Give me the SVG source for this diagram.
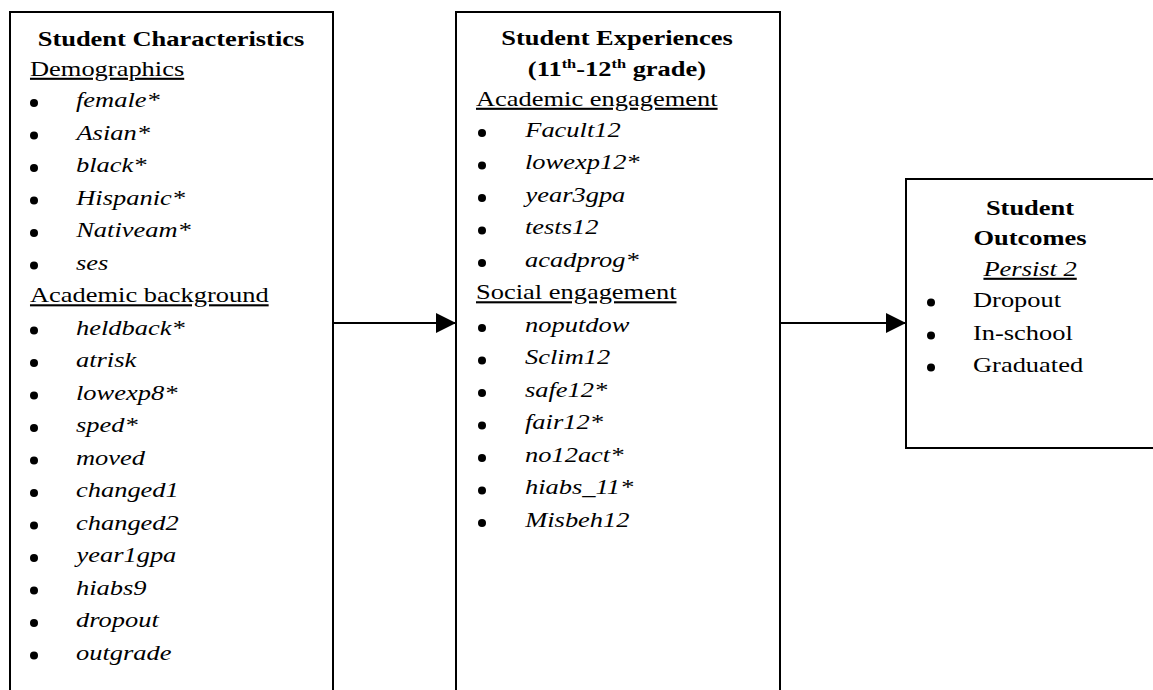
<svg xmlns="http://www.w3.org/2000/svg" width="1153" height="690" viewBox="0 0 1153 690">
  <style>
    .box { fill: #fff; stroke: #000; stroke-width: 2; }
    .link { stroke: #000; stroke-width: 2; fill: none; }
    .dot { fill: #000; }
    .t { font-family: "Liberation Serif", "Times New Roman", serif; font-size: 21px; fill: #000;
         transform: scaleX(1.26); transform-box: fill-box; transform-origin: 0 0; }
    .c { text-anchor: middle; transform-origin: 50% 0; }
    .b { font-weight: bold; }
    .i { font-style: italic; }
    .u { text-decoration: underline; }
    .sup { font-size: 13px; }
  </style>
  <defs>
    <marker id="head" markerUnits="userSpaceOnUse" markerWidth="20" markerHeight="20" refX="20" refY="10" orient="auto">
      <path d="M0,0 L20,10 L0,20 Z" fill="#000"/>
    </marker>
  </defs>
  <rect width="1153" height="690" fill="#fff"/>

  <!-- Student characteristics -->
  <g id="characteristics">
    <rect class="box" x="10" y="12" width="323" height="700"/>
    <text class="t c b" x="171" y="46">Student Characteristics</text>
    <text class="t u" x="30" y="76">Demographics</text>
    <g class="dot">
      <circle cx="34" cy="103" r="4"/><circle cx="34" cy="135.5" r="4"/><circle cx="34" cy="168" r="4"/>
      <circle cx="34" cy="200.5" r="4"/><circle cx="34" cy="233" r="4"/><circle cx="34" cy="265.5" r="4"/>
      <circle cx="34" cy="330.5" r="4"/><circle cx="34" cy="363" r="4"/><circle cx="34" cy="395.5" r="4"/>
      <circle cx="34" cy="428" r="4"/><circle cx="34" cy="460.5" r="4"/><circle cx="34" cy="493" r="4"/>
      <circle cx="34" cy="525.5" r="4"/><circle cx="34" cy="558" r="4"/><circle cx="34" cy="590.5" r="4"/>
      <circle cx="34" cy="623" r="4"/><circle cx="34" cy="655.5" r="4"/>
    </g>
    <text class="t i" x="76" y="107.5">female*</text>
    <text class="t i" x="76" y="140">Asian*</text>
    <text class="t i" x="76" y="172.5">black*</text>
    <text class="t i" x="76" y="205">Hispanic*</text>
    <text class="t i" x="76" y="237.5">Nativeam*</text>
    <text class="t i" x="76" y="270">ses</text>
    <text class="t u" x="30" y="302.5">Academic background</text>
    <text class="t i" x="76" y="335">heldback*</text>
    <text class="t i" x="76" y="367.5">atrisk</text>
    <text class="t i" x="76" y="400">lowexp8*</text>
    <text class="t i" x="76" y="432.5">sped*</text>
    <text class="t i" x="76" y="465">moved</text>
    <text class="t i" x="76" y="497.5">changed1</text>
    <text class="t i" x="76" y="530">changed2</text>
    <text class="t i" x="76" y="562.5">year1gpa</text>
    <text class="t i" x="76" y="595">hiabs9</text>
    <text class="t i" x="76" y="627.5">dropout</text>
    <text class="t i" x="76" y="660">outgrade</text>
  </g>

  <!-- Student experiences -->
  <g id="experiences">
    <rect class="box" x="456" y="12" width="324" height="700"/>
    <text class="t c b" x="617" y="45">Student Experiences</text>
    <text class="t c b" x="617" y="76">(11<tspan class="sup" baseline-shift="8">th</tspan>-12<tspan class="sup" baseline-shift="8">th</tspan> grade)</text>
    <text class="t u" x="476" y="106">Academic engagement</text>
    <g class="dot">
      <circle cx="482" cy="133" r="4"/><circle cx="482" cy="165.5" r="4"/><circle cx="482" cy="198" r="4"/>
      <circle cx="482" cy="230.5" r="4"/><circle cx="482" cy="263" r="4"/>
      <circle cx="482" cy="328" r="4"/><circle cx="482" cy="360.5" r="4"/><circle cx="482" cy="393" r="4"/>
      <circle cx="482" cy="425.5" r="4"/><circle cx="482" cy="458" r="4"/><circle cx="482" cy="490.5" r="4"/>
      <circle cx="482" cy="523" r="4"/>
    </g>
    <text class="t i" x="525" y="137">Facult12</text>
    <text class="t i" x="525" y="169.5">lowexp12*</text>
    <text class="t i" x="525" y="202">year3gpa</text>
    <text class="t i" x="525" y="234.5">tests12</text>
    <text class="t i" x="525" y="267">acadprog*</text>
    <text class="t u" x="476" y="299.5">Social engagement</text>
    <text class="t i" x="525" y="332">noputdow</text>
    <text class="t i" x="525" y="364.5">Sclim12</text>
    <text class="t i" x="525" y="397">safe12*</text>
    <text class="t i" x="525" y="429.5">fair12*</text>
    <text class="t i" x="525" y="462">no12act*</text>
    <text class="t i" x="525" y="494.5">hiabs_11*</text>
    <text class="t i" x="525" y="527">Misbeh12</text>
  </g>

  <!-- Student outcomes -->
  <g id="outcomes">
    <rect class="box" x="906" y="179" width="250" height="269"/>
    <text class="t c b" x="1030" y="215">Student</text>
    <text class="t c b" x="1030" y="245">Outcomes</text>
    <text class="t c i u" x="1030" y="276">Persist 2</text>
    <g class="dot">
      <circle cx="931" cy="302.5" r="4"/><circle cx="931" cy="335.5" r="4"/><circle cx="931" cy="367.5" r="4"/>
    </g>
    <text class="t" x="973" y="307">Dropout</text>
    <text class="t" x="973" y="340">In-school</text>
    <text class="t" x="973" y="372">Graduated</text>
  </g>

  <!-- Connectors -->
  <g id="connectors">
    <line class="link" x1="333" y1="323" x2="456" y2="323" marker-end="url(#head)"/>
    <line class="link" x1="780" y1="323" x2="906" y2="323" marker-end="url(#head)"/>
  </g>
</svg>
